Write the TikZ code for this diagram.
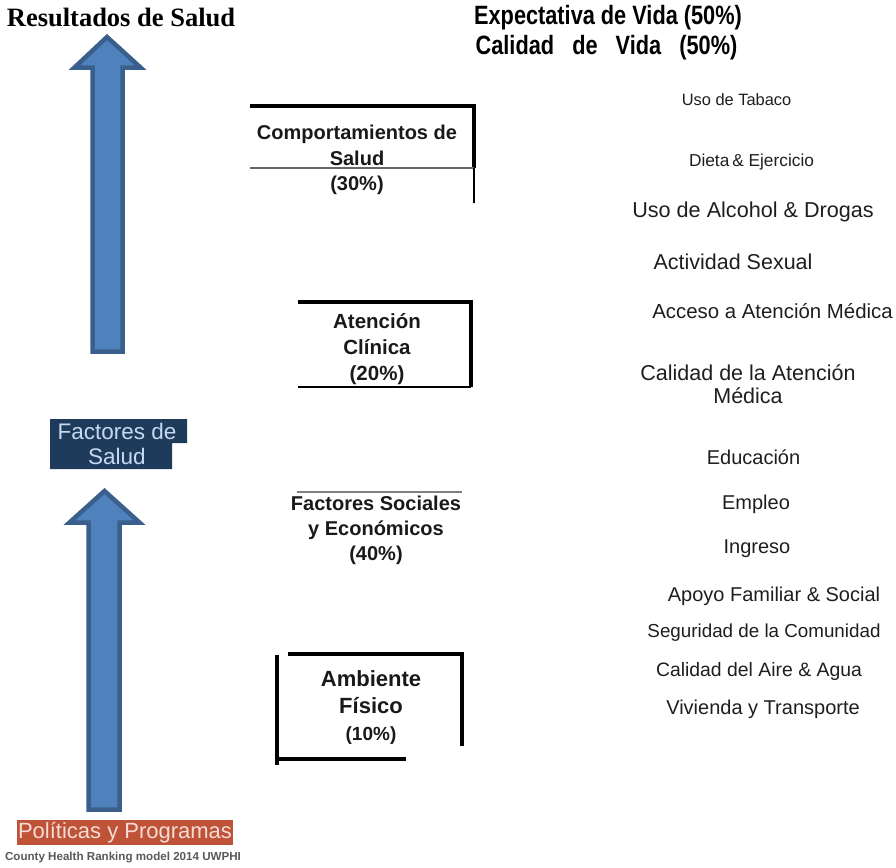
\documentclass[tikz,border=0pt]{standalone}
\usepackage{fontspec}
\setmainfont{Liberation Sans}
\newfontfamily\serifbold{Liberation Serif}
\newfontfamily\narrowsans[FakeStretch=0.82]{Liberation Sans}
\usepackage{xcolor}
\usepackage{tikz}
\usetikzlibrary{positioning,calc}

\definecolor{arrowfill}{HTML}{4F81BD}
\definecolor{arrowedge}{HTML}{3A5F8C}
\definecolor{navybg}{HTML}{1F3B5C}
\definecolor{navytext}{HTML}{C6D9F1}
\definecolor{redbg}{HTML}{BF5338}
\definecolor{redtext}{HTML}{F6DCD6}
\definecolor{notegray}{HTML}{595959}
\definecolor{itemtext}{HTML}{1E1E1E}

\begin{document}
\begin{tikzpicture}[
      x=1pt,y=-1pt,
      factorlbl/.style={
        align=center,
        inner sep=0pt,
        text=black!90,
        font=\bfseries\fontsize{20}{25.5}\selectfont
      },
      itemlbl/.style={align=center,inner sep=0pt,text=itemtext,font=\fontsize{20}{23}\selectfont},
      bigarrow/.style={fill=arrowfill,draw=arrowedge,line width=4.5pt},
      thickedge/.style={line width=4pt},
      thinedge/.style={line width=1.2pt}
    ]
    \useasboundingbox (0,0) rectangle (896,867);

    % Headings
    \node[inner sep=0pt,font=\serifbold\bfseries\fontsize{26.5}{30}\selectfont] (outcomes) at (121,17) {Resultados de Salud};
    \node[inner sep=0pt,font=\narrowsans\bfseries\fontsize{26.5}{30}\selectfont] (lifelen) at (608,18) {Expectativa de Vida (50\%)};
    \node[inner sep=0pt,font=\narrowsans\bfseries\fontsize{26.5}{30}\selectfont] (lifequal) at (606.5,48) {Calidad~~~de~~~Vida~~~(50\%)};

    % Block arrows
    \draw[bigarrow] (107,37) -- (140.5,67.5) -- (122.5,67.5) -- (122.5,351.5) -- (92.5,351.5)
      -- (92.5,67.5) -- (74.5,67.5) -- cycle;
    \draw[bigarrow] (104.5,491) -- (139.5,522.5) -- (119.5,522.5) -- (119.5,809.5) -- (88.5,809.5)
      -- (88.5,522.5) -- (69.5,522.5) -- cycle;

    % Left labels
    \fill[navybg] (50,419) -- (187,419) -- (187,443) -- (172,443) -- (172,469) -- (50,469) -- cycle;
    \node[inner sep=0pt,align=center,text=navytext,font=\fontsize{22.5}{25}\selectfont] (factors) at (117,444) {Factores de\\Salud};
    \node[fill=redbg,text=redtext,inner sep=1pt,minimum height=25pt,font=\fontsize{22}{25}\selectfont] (policies) at (125,832.5) {Políticas y Programas};
    \node[inner sep=0pt,text=notegray,font=\bfseries\fontsize{11.6}{13}\selectfont] (source) at (123,858) {County Health Ranking model 2014 UWPHI};

    % Factor groups
    \node[factorlbl] (behav) at (357,160) {Comportamientos de\\Salud\\(30\%)};
    \draw[thickedge] (250,106) -- (474,106) -- (474,168);
    \draw[thinedge,draw=black!60] (250,168) -- (474,168);
    \draw[thinedge] (474,168) -- (474,203);

    \node[factorlbl,font=\bfseries\fontsize{20.5}{26}\selectfont] (clinic) at (377,349) {Atención\\Clínica\\(20\%)};
    \draw[thickedge] (298,302) -- (471,302) -- (471,387);
    \draw[thinedge] (298,387) -- (471,387);

    \node[factorlbl,font=\bfseries\fontsize{20}{25}\selectfont] (social) at (376,530) {Factores Sociales\\y Económicos\\(40\%)};
    \draw[thinedge,draw=black!50] (297,492) -- (462,492);

    \node[factorlbl,font=\bfseries\fontsize{22}{27}\selectfont] (physical) at (371,707) {Ambiente\\Físico\\{\fontsize{19}{20}\selectfont(10\%)}};
    \draw[thickedge] (288,654) -- (462,654) -- (462,746);
    \draw[thickedge] (277,655) -- (277,765);
    \draw[thickedge] (277,759) -- (406,759);

    % Items
    \node[itemlbl,font=\fontsize{16.4}{20}\selectfont] (tobacco) at (736.5,100) {Uso de Tabaco};
    \node[itemlbl,font=\fontsize{17.3}{20}\selectfont] (diet) at (751.5,162) {Dieta\,\& Ejercicio};
    \node[itemlbl,font=\fontsize{21.6}{24}\selectfont] (alcohol) at (753,212) {Uso de Alcohol \& Drogas};
    \node[itemlbl,font=\fontsize{21.5}{24}\selectfont] (sexual) at (733,262) {Actividad Sexual};
    \node[itemlbl,font=\fontsize{20.4}{24}\selectfont] (access) at (772.5,311) {Acceso a Atención Médica};
    \node[itemlbl,font=\fontsize{21.5}{23}\selectfont] (quality) at (748,384) {Calidad de la Atención\\Médica};
    \node[itemlbl] (education) at (753.5,457) {Educación};
    \node[itemlbl] (employ) at (756,504) {Empleo};
    \node[itemlbl] (income) at (757,549) {Ingreso};
    \node[itemlbl] (support) at (774,596) {Apoyo Familiar \& Social};
    \node[itemlbl,font=\fontsize{18.8}{22}\selectfont] (safety) at (764,633) {Seguridad de la Comunidad};
    \node[itemlbl,font=\fontsize{19.4}{22}\selectfont] (air) at (759,671) {Calidad del Aire \& Agua};
    \node[itemlbl] (housing) at (763,709) {Vivienda y Transporte};
  \end{tikzpicture}
\end{document}
